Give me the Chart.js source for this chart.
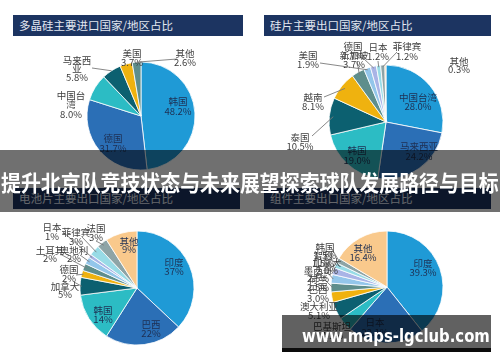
<!DOCTYPE html>
<html><head><meta charset="utf-8">
<script src="https://cdn.jsdelivr.net/npm/chart.js@4.4.1/dist/chart.umd.min.js"></script>
<style>
html,body{margin:0;padding:0;background:#fff;width:500px;height:362px;overflow:hidden;font-family:"Noto Sans CJK SC",sans-serif;}
#wrap{position:relative;width:500px;height:362px;overflow:hidden;}
canvas{position:absolute;left:0;top:0;}
.hdr{position:absolute;background:#1c3461;color:#e3e8f1;font-size:11.5px;line-height:21px;height:21px;padding-left:6px;box-sizing:border-box;white-space:nowrap;font-family:"Noto Sans CJK SC",sans-serif;}
#band{position:absolute;left:0;top:150px;width:500px;height:62px;background:rgba(0,0,0,0.56);}
#title{position:absolute;left:1px;top:167px;width:2000px;text-align:left;color:#fff;font-weight:bold;font-size:21.5px;line-height:30px;white-space:nowrap;font-family:"Noto Sans CJK SC",sans-serif;}
#tts{display:inline-block;transform-origin:0 50%;}
#wm{position:absolute;left:282px;top:315px;width:209px;height:33px;background:rgba(0,0,0,0.62);}
#wmb{position:absolute;left:282px;top:348px;width:209px;height:4px;background:#0c0c0c;}
#wmt{position:absolute;left:282px;top:327px;width:209px;text-align:center;color:#fff;font-weight:bold;font-size:18px;line-height:18px;white-space:nowrap;font-family:"DejaVu Sans",sans-serif;}
</style>
</head><body>
<div id="wrap">
 <div class="hdr" style="left:13px;top:15px;width:230px">多晶硅主要进口国家/地区占比</div>
 <div class="hdr" style="left:264px;top:15px;width:227px">硅片主要出口国家/地区占比</div>
 <div class="hdr" style="left:13px;top:188px;width:227px">电池片主要出口国家/地区占比</div>
 <div class="hdr" style="left:264px;top:188px;width:227px">组件主要出口国家/地区占比</div>
 <canvas id="c1" width="500" height="362"></canvas>
 <canvas id="c2" width="500" height="362"></canvas>
 <canvas id="c3" width="500" height="362"></canvas>
 <canvas id="c4" width="500" height="362"></canvas>
 <div id="band"></div>
 <div id="title"><span id="tts">提升北京队竞技状态与未来展望探索球队发展路径与目标</span></div>
 <div id="wm"></div><div id="wmb"></div>
 <div id="wmt"><span id="wms" style="display:inline-block">www.maps-lgclub.com</span></div>
</div>
<script>
// ---- data ----
const polyCats = ['韩国','德国','中国台湾','马来西亚','美国','其他'];
const polyVals = [48.2,31.7,8.0,5.8,3.7,2.6];

const waferCats = ['中国台湾','马来西亚','韩国','泰国','越南','新加坡','美国','德国','日本','菲律宾','其他'];
const waferVals = [28.0,24.2,19.0,10.5,8.1,3.7,1.9,1.7,1.2,1.2,0.3];

const cellCats = ['印度','巴西','韩国','加拿大','德国','土耳其','奥地利','日本','菲律宾','法国','其他'];
const cellVals = [37,22,14,5,2,2,2,1,3,3,9];

const modCats = ['印度','日本','巴基斯坦','澳大利亚','巴西','荷兰','墨西哥','加拿大','智利','韩国','其他'];
const modVals = [39.3,22.1,4.1,5.1,3.0,2.5,2.5,2.0,1.5,1.5,16.4];

const palette = ['#1f9ad6','#2b6fb6','#2cbcc4','#0c6070','#efb20f','#5e8e8c','#93c6ea','#a9b4e6','#98dbe6','#8ea4a6','#f9c98c'];

// ---- label layout (text positions only) ----
const polyLayout = [
 {x:178,y:101,lh:10,inside:true},
 {x:113,y:138,lh:10,inside:true},
 {x:71,y:95,lh:9.5,split:['中国台','湾']},
 {x:77,y:60,lh:8.7,split:['马来西','亚'],from:[92,68],lr:1.0},
 {x:132,y:53,lh:9},
 {x:185,y:53,lh:9,from:[177,59],lr:1.0}
];
const waferLayout = [
 {x:418,y:97,lh:9.5,inside:true},
 {x:419,y:146,lh:10,inside:true},
 {x:357,y:150,lh:10,inside:true},
 {x:300,y:137,lh:9.5,from:[312,136],lr:0.93},
 {x:313,y:97,lh:9,from:[324,97],lr:0.93},
 {x:354,y:55,lh:9,from:[357,61],lr:0.95},
 {x:308,y:55,lh:9,from:[320,63],lr:0.97},
 {x:353,y:46,lh:9,from:[363,58],lr:0.97},
 {x:378,y:47,lh:9,from:[378,61],lr:0.97},
 {x:407,y:46,lh:10,from:[397,52],lr:0.97},
 {x:459,y:61,lh:8.5}
];
const cellLayout = [
 {x:174,y:262,lh:9,inside:true},
 {x:151,y:324,lh:9.5,inside:true},
 {x:103,y:310,lh:9,inside:true},
 {x:65,y:286,lh:8.5,from:[74,282],lr:0.97},
 {x:69,y:269,lh:9,from:[76,275],lr:0.97},
 {x:50,y:250,lh:8.5,from:[60,254],lr:0.95},
 {x:74,y:250,lh:8.5,from:[80,255],lr:0.95},
 {x:52,y:227,lh:9,from:[62,231],lr:0.95},
 {x:76,y:232,lh:9,from:[82,237],lr:0.95},
 {x:96,y:228,lh:9,from:[96,241],lr:0.95},
 {x:129,y:241,lh:8.5,inside:true}
];
const modLayout = [
 {x:423,y:263,lh:9,inside:true},
 {x:375,y:322,lh:10,inside:true},
 {x:332,y:326,lh:9.5},
 {x:319,y:306,lh:9},
 {x:318,y:289,lh:9.5},
 {x:318,y:279,lh:8.5,from:[326,281],lr:0.97},
 {x:318,y:270,lh:8.5,from:[327,272],lr:0.97},
 {x:327,y:262,lh:8.5,from:[333,264],lr:0.97},
 {x:323,y:255,lh:8.5,from:[330,257],lr:0.97},
 {x:325,y:247,lh:8.5,from:[332,249],lr:0.97},
 {x:363,y:248,lh:9.5,inside:true}
];

const W = 500, H = 362;

function makePie(id, cats, vals, layout, dec, cx, cy, r) {
  const labelPlugin = {
    id: 'sliceLabels_' + id,
    afterDatasetsDraw(chart) {
      const ctx = chart.ctx;
      const meta = chart.getDatasetMeta(0);
      ctx.save();
      ctx.textAlign = 'center';
      ctx.textBaseline = 'middle';
      ctx.font = '9.5px "Noto Sans CJK SC", sans-serif';
      layout.forEach((s, i) => {
        if (!s) return;
        const arc = meta.data[i];
        if (s.from) {
          const mid = (arc.startAngle + arc.endAngle) / 2;
          const rr = arc.outerRadius * (s.lr || 1);
          ctx.beginPath();
          ctx.strokeStyle = '#7a7a7a';
          ctx.lineWidth = 0.9;
          ctx.moveTo(s.from[0], s.from[1]);
          ctx.lineTo(arc.x + Math.cos(mid) * rr, arc.y + Math.sin(mid) * rr);
          ctx.stroke();
        }
        const lines = (s.split || [cats[i]]).concat([vals[i].toFixed(dec) + '%']);
        ctx.fillStyle = s.inside ? '#1e2f52' : '#3d3d3d';
        lines.forEach((t, k) => ctx.fillText(t, s.x, s.y + k * s.lh));
      });
      ctx.restore();
    }
  };
  new Chart(document.getElementById(id), {
    type: 'pie',
    data: { labels: cats, datasets: [{ data: vals, backgroundColor: palette.slice(0, vals.length),
      borderColor: '#ffffff', borderWidth: 0.8 }] },
    options: {
      responsive: false, animation: false, events: [],
      radius: r,
      layout: { padding: { left: cx - r, right: W - cx - r, top: cy - r, bottom: H - cy - r } },
      plugins: { legend: { display: false }, tooltip: { enabled: false } }
    },
    plugins: [labelPlugin]
  });
}

makePie('c1', polyCats, polyVals, polyLayout, 1, 141, 116, 54);
makePie('c2', waferCats, waferVals, waferLayout, 1, 386, 122, 57);
makePie('c3', cellCats, cellVals, cellLayout, 0, 137, 288, 57);
makePie('c4', modCats, modVals, modLayout, 1, 387, 287, 56);

// fit overlay text widths
(function(){
  const wms = document.getElementById('wms');
  wms.style.transform = 'scaleX(' + (188 / wms.getBoundingClientRect().width).toFixed(3) + ')';
  const tts = document.getElementById('tts');
  tts.style.transform = 'scaleX(' + (498 / tts.getBoundingClientRect().width).toFixed(3) + ')';
})();
</script>
</body></html>
